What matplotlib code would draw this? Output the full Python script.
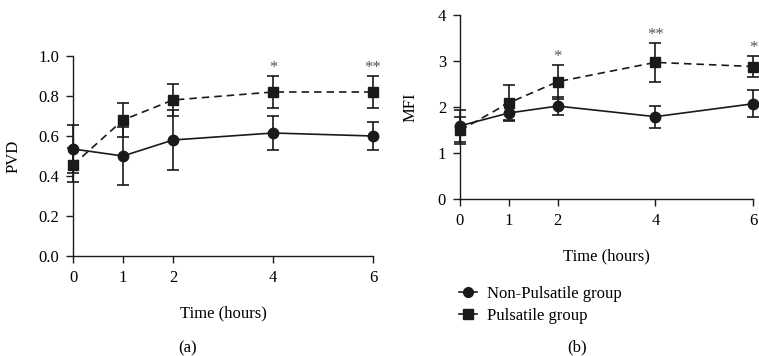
import matplotlib
matplotlib.use("Agg")
import matplotlib.pyplot as plt
from matplotlib.lines import Line2D

plt.rcParams['font.family'] = ['Liberation Serif', 'DejaVu Serif']

hours = [0, 1, 2, 4, 6]

pvd_non = [0.535, 0.50, 0.58, 0.615, 0.60]
pvd_non_err = [0.12, 0.145, 0.15, 0.085, 0.072]
pvd_pul = [0.455, 0.68, 0.78, 0.82, 0.82]
pvd_pul_err = [0.085, 0.085, 0.08, 0.08, 0.08]
pvd_stars = {4: "*", 6: "**"}

mfi_non = [1.59, 1.87, 2.02, 1.79, 2.07]
mfi_non_err = [0.34, 0.18, 0.19, 0.24, 0.29]
mfi_pul = [1.49, 2.09, 2.55, 2.97, 2.88]
mfi_pul_err = [0.3, 0.38, 0.37, 0.42, 0.23]
mfi_stars = {2: "*", 4: "**", 6: "*"}

W, H = 759, 356
fig = plt.figure(figsize=(W / 100, H / 100), dpi=100)

C = '#1a1a1a'
FS = 12

def make_ax(x0, x1, ytop, ybot):
    return fig.add_axes([x0 / W, 1 - ybot / H, (x1 - x0) / W, (ybot - ytop) / H])

def draw(ax, non, non_err, pul, pul_err, ylim, yticks, ylabels, ylabel, stars, star_off):
    ax.errorbar(hours, non, yerr=non_err, color=C, lw=1.2, marker='o', ms=7.5,
                capsize=4.5, elinewidth=1.2, capthick=1.2, clip_on=False, zorder=3)
    ax.errorbar(hours, pul, yerr=pul_err, color=C, lw=1.2, marker='s', ms=7,
                capsize=4.5, elinewidth=1.2, capthick=1.2, clip_on=False, zorder=3,
                linestyle=(0, (4.5, 3)))
    ax.set_xlim(0, 6)
    ax.set_ylim(*ylim)
    ax.set_xticks(hours)
    ax.set_xticklabels([str(h) for h in hours], fontsize=FS)
    ax.set_yticks(yticks)
    ax.set_yticklabels(ylabels, fontsize=FS)
    ax.set_ylabel(ylabel, fontsize=FS)
    ax.set_xlabel('Time (hours)', fontsize=FS, labelpad=14)
    for s in ['top', 'right']:
        ax.spines[s].set_visible(False)
    for s in ['left', 'bottom']:
        ax.spines[s].set_color(C)
        ax.spines[s].set_linewidth(1.0)
    ax.tick_params(direction='out', length=5, width=1.0, color=C, pad=5)
    for x, s in stars.items():
        i = hours.index(x)
        ax.text(x, pul[i] + pul_err[i] + star_off, s, ha='center', va='bottom',
                fontsize=12, color='#555555')

ax1 = make_ax(73, 373, 56, 256)
draw(ax1, pvd_non, pvd_non_err, pvd_pul, pvd_pul_err, (0, 1.0),
     [0, 0.2, 0.4, 0.6, 0.8, 1.0], ['0.0', '0.2', '0.4', '0.6', '0.8', '1.0'],
     'PVD', pvd_stars, 0.0)
ax1.yaxis.labelpad = 12

ax2 = make_ax(460, 753, 15, 199)
draw(ax2, mfi_non, mfi_non_err, mfi_pul, mfi_pul_err, (0, 4),
     [0, 1, 2, 3, 4], ['0', '1', '2', '3', '4'],
     'MFI', mfi_stars, 0.0)
ax2.yaxis.labelpad = 14

fig.text(188 / W, 1 - 348 / H, '(a)', ha='center', va='center', fontsize=FS)
fig.text(577 / W, 1 - 347 / H, '(b)', ha='center', va='center', fontsize=FS)

handles = [Line2D([], [], color=C, marker='o', ms=7, lw=1.2),
           Line2D([], [], color=C, marker='s', ms=6.5, lw=1.2)]
fig.legend(handles, ['Non-Pulsatile group', 'Pulsatile group'],
           loc='upper left', bbox_to_anchor=(452 / W, 1 - 279 / H),
           frameon=False, fontsize=FS, handlelength=1.1, handletextpad=0.6,
           labelspacing=0.35, borderaxespad=0)

fig.savefig('out.png', dpi=100)
